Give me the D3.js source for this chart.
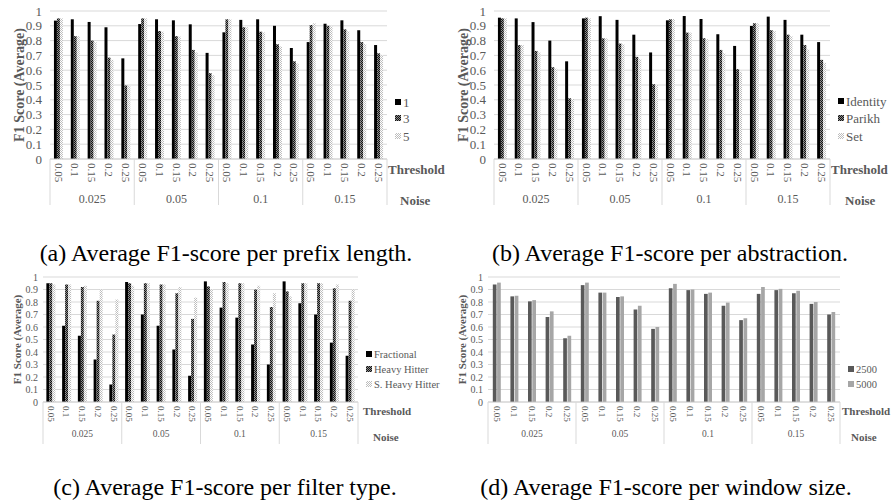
<!DOCTYPE html>
<html>
<head>
<meta charset="utf-8">
<script src="https://cdn.jsdelivr.net/npm/d3@7"></script>
<style>
  body { margin: 0; background: #fff; }
  svg { display: block; font-family: "Liberation Serif", "Times New Roman", serif; }
</style>
</head>
<body>
<div id="chart"></div>
<script>
// categories shared by all four panels
const noiseLevels = ["0.025", "0.05", "0.1", "0.15"];
const thresholds = ["0.05", "0.1", "0.15", "0.2", "0.25"];

// (a) prefix length
const prefixSeries = ["1", "3", "5"];
const prefix1 = [0.935, 0.944, 0.926, 0.89, 0.68, 0.912, 0.944, 0.937, 0.91, 0.717,
                 0.856, 0.94, 0.944, 0.90, 0.75, 0.79, 0.914, 0.937, 0.87, 0.77];
const prefix3 = [0.95, 0.83, 0.80, 0.685, 0.497, 0.95, 0.865, 0.83, 0.737, 0.58,
                 0.944, 0.89, 0.86, 0.775, 0.66, 0.905, 0.90, 0.876, 0.79, 0.714];
const prefix5 = [0.95, 0.83, 0.79, 0.67, 0.494, 0.95, 0.86, 0.827, 0.72, 0.566,
                 0.944, 0.89, 0.855, 0.76, 0.645, 0.917, 0.896, 0.863, 0.777, 0.70];

// (b) abstraction
const abstractionSeries = ["Identity", "Parikh", "Set"];
const identity = [0.955, 0.95, 0.925, 0.80, 0.66, 0.95, 0.965, 0.94, 0.84, 0.72,
                  0.937, 0.966, 0.946, 0.843, 0.764, 0.899, 0.962, 0.94, 0.84, 0.79];
const parikh = [0.95, 0.77, 0.73, 0.62, 0.41, 0.955, 0.815, 0.78, 0.69, 0.505,
                0.944, 0.854, 0.816, 0.737, 0.607, 0.917, 0.87, 0.84, 0.77, 0.67];
const setAbs = [0.95, 0.77, 0.72, 0.61, 0.405, 0.95, 0.815, 0.775, 0.675, 0.50,
                0.946, 0.854, 0.81, 0.715, 0.59, 0.917, 0.865, 0.83, 0.74, 0.65];

// (c) filter type
const filterSeries = ["Fractional", "Heavy Hitter", "S. Heavy Hitter"];
const fractional = [0.95, 0.61, 0.53, 0.34, 0.14, 0.96, 0.70, 0.61, 0.42, 0.21,
                    0.965, 0.755, 0.675, 0.46, 0.30, 0.965, 0.79, 0.70, 0.475, 0.37];
const heavyHitter = [0.95, 0.94, 0.92, 0.81, 0.54, 0.95, 0.95, 0.94, 0.87, 0.665,
                     0.925, 0.96, 0.95, 0.90, 0.76, 0.885, 0.95, 0.95, 0.91, 0.81];
const sHeavyHitter = [0.94, 0.94, 0.93, 0.90, 0.82, 0.93, 0.95, 0.94, 0.92, 0.835,
                      0.90, 0.95, 0.95, 0.93, 0.87, 0.845, 0.95, 0.95, 0.94, 0.90];

// (d) window size
const windowSeries = ["2500", "5000"];
const win2500 = [0.94, 0.845, 0.805, 0.68, 0.51, 0.935, 0.875, 0.84, 0.74, 0.585,
                 0.91, 0.895, 0.865, 0.77, 0.655, 0.865, 0.895, 0.87, 0.785, 0.70];
const win5000 = [0.955, 0.85, 0.815, 0.725, 0.53, 0.955, 0.875, 0.845, 0.77, 0.60,
                 0.945, 0.90, 0.875, 0.795, 0.67, 0.92, 0.905, 0.89, 0.80, 0.72];

const captions = [
  "(a) Average F1-score per prefix length.",
  "(b) Average F1-score per abstraction.",
  "(c) Average F1-score per filter type.",
  "(d) Average F1-score per window size."
];

const W = 891, H = 502;
const grey = "#595959";

const svg = d3.select("#chart").append("svg")
  .attr("width", W)
  .attr("height", H);

// checkered fills
const defs = svg.append("defs");
function checker(id, base, dot) {
  const p = defs.append("pattern")
    .attr("id", id)
    .attr("patternUnits", "userSpaceOnUse")
    .attr("width", 2).attr("height", 2);
  p.append("rect").attr("width", 2).attr("height", 2).attr("fill", base);
  p.append("rect").attr("width", 1).attr("height", 1).attr("fill", dot);
  p.append("rect").attr("x", 1).attr("y", 1).attr("width", 1).attr("height", 1).attr("fill", dot);
}
checker("darkCheck", "#8c8c8c", "#111");
checker("lightCheck", "#ffffff", "#bdbdbd");

const threeFills = ["#000", "url(#darkCheck)", "url(#lightCheck)"];

// layout of each panel
const panels = [
  {series: prefixSeries, values: [prefix1, prefix3, prefix5], fills: threeFills,
   left: 50, right: 387, top: 11, bottom: 159, po: 1.32, pi: 0,
   tickPad: 8, tickFont: 13, catFont: 11, groupFont: 12, labFont: 13, legFont: 13,
   titleX: 19, titleFont: 14, sepLen: 46, groupY: 203, catY: 163,
   thrX: 388, thrY: 174, noiseX: 400, noiseY: 205,
   legX: 395, legY: [102, 118, 136], capX: 226, capY: 261},
  {series: abstractionSeries, values: [identity, parikh, setAbs], fills: threeFills,
   left: 494, right: 830, top: 11, bottom: 159, po: 1.32, pi: 0,
   tickPad: 8, tickFont: 13, catFont: 11, groupFont: 12, labFont: 13, legFont: 13,
   titleX: 463, titleFont: 14, sepLen: 46, groupY: 203, catY: 163,
   thrX: 831, thrY: 174, noiseX: 845, noiseY: 205,
   legX: 838, legY: [101, 118, 136], capX: 670, capY: 261},
  {series: filterSeries, values: [fractional, heavyHitter, sHeavyHitter], fills: threeFills,
   left: 43, right: 358, top: 277, bottom: 402, po: 1.12, pi: 0,
   tickPad: 5, tickFont: 10, catFont: 9, groupFont: 9.5, labFont: 11, legFont: 10.5,
   titleX: 17, titleFont: 11, sepLen: 42, groupY: 437, catY: 406,
   thrX: 363, thrY: 415, noiseX: 373, noiseY: 441,
   legX: 366, legY: [354, 369, 384], capX: 225, capY: 495},
  {series: windowSeries, values: [win2500, win5000], fills: ["#595959", "#a6a6a6"],
   left: 488, right: 840, top: 277, bottom: 402, po: 1.12, pi: 0.14,
   tickPad: 5, tickFont: 10, catFont: 9, groupFont: 9.5, labFont: 11, legFont: 10.5,
   titleX: 462, titleFont: 11, sepLen: 42, groupY: 437, catY: 406,
   thrX: 842, thrY: 415, noiseX: 851, noiseY: 441,
   legX: 848, legY: [369, 384], capX: 666, capY: 495}
];

panels.forEach((p, i) => drawPanel(p, captions[i]));

function drawPanel(p, caption) {
  const g = svg.append("g");

  const y = d3.scaleLinear().domain([0, 1]).range([p.bottom, p.top]);
  const x0 = d3.scaleBand().domain(noiseLevels).range([p.left, p.right]);
  const x1 = d3.scaleBand().domain(thresholds).range([0, x0.bandwidth()]);
  const xs = d3.scaleBand().domain(p.series).range([0, x1.bandwidth()])
    .paddingInner(p.pi).paddingOuter(p.po);

  const yTicks = d3.range(11).map(i => i / 10);

  // horizontal gridlines
  g.append("g").selectAll("line")
    .data(yTicks.slice(1))
    .join("line")
    .attr("x1", p.left).attr("x2", p.right)
    .attr("y1", d => y(d)).attr("y2", d => y(d))
    .attr("stroke", "#d9d9d9")
    .attr("stroke-width", 1);

  // y axis labels
  const yAxis = g.append("g")
    .attr("transform", `translate(${p.left},0)`)
    .call(d3.axisLeft(y).tickValues(yTicks).tickSize(0).tickPadding(p.tickPad)
      .tickFormat(d => String(+d.toFixed(1))));
  yAxis.select(".domain").remove();
  yAxis.selectAll("text")
    .attr("fill", grey)
    .style("font-family", "Liberation Serif, serif")
    .style("font-size", p.tickFont + "px");

  // bars
  const rows = [];
  noiseLevels.forEach((n, i) => {
    thresholds.forEach((t, j) => {
      p.series.forEach((s, k) => {
        rows.push({noise: n, thr: t, k: k, s: s, v: p.values[k][i * thresholds.length + j]});
      });
    });
  });

  g.append("g").selectAll("rect")
    .data(rows)
    .join("rect")
    .attr("x", d => x0(d.noise) + x1(d.thr) + xs(d.s))
    .attr("y", d => y(d.v))
    .attr("width", xs.bandwidth())
    .attr("height", d => y(0) - y(d.v))
    .attr("fill", d => p.fills[d.k]);

  // category axis line
  g.append("line")
    .attr("x1", p.left).attr("x2", p.right)
    .attr("y1", y(0)).attr("y2", y(0))
    .attr("stroke", "#bfbfbf");

  // group separators
  const seps = noiseLevels.map(n => x0(n)).concat([p.right]);
  g.append("g").selectAll("line")
    .data(seps)
    .join("line")
    .attr("x1", d => d).attr("x2", d => d)
    .attr("y1", y(0)).attr("y2", y(0) + p.sepLen)
    .attr("stroke", "#d9d9d9");

  // threshold labels, rotated
  const cats = [];
  noiseLevels.forEach(n => thresholds.forEach(t => cats.push({noise: n, thr: t})));
  g.append("g").selectAll("text")
    .data(cats)
    .join("text")
    .attr("transform", d => `translate(${x0(d.noise) + x1(d.thr) + x1.bandwidth() / 2},${p.catY}) rotate(90)`)
    .attr("dy", "0.35em")
    .attr("fill", grey)
    .style("font-size", p.catFont + "px")
    .text(d => d.thr);

  // noise labels
  g.append("g").selectAll("text")
    .data(noiseLevels)
    .join("text")
    .attr("x", d => x0(d) + x0.bandwidth() / 2)
    .attr("y", p.groupY)
    .attr("text-anchor", "middle")
    .attr("fill", grey)
    .style("font-size", p.groupFont + "px")
    .text(d => d);

  g.append("text")
    .attr("x", p.thrX).attr("y", p.thrY)
    .attr("fill", grey)
    .style("font-weight", "bold")
    .style("font-size", p.labFont + "px")
    .text("Threshold");

  g.append("text")
    .attr("x", p.noiseX).attr("y", p.noiseY)
    .attr("fill", grey)
    .style("font-weight", "bold")
    .style("font-size", p.labFont + "px")
    .text("Noise");

  // y title
  g.append("text")
    .attr("transform", `translate(${p.titleX},${(p.top + p.bottom) / 2}) rotate(-90)`)
    .attr("text-anchor", "middle")
    .attr("dy", "0.35em")
    .attr("fill", grey)
    .style("font-weight", "bold")
    .style("font-size", p.titleFont + "px")
    .text("F1 Score (Average)");

  // legend
  const leg = g.append("g").selectAll("g")
    .data(p.series)
    .join("g")
    .attr("transform", (d, k) => `translate(${p.legX},${p.legY[k]})`);
  leg.append("rect")
    .attr("x", 0).attr("y", -3)
    .attr("width", 6).attr("height", 6)
    .attr("fill", (d, k) => p.fills[k]);
  leg.append("text")
    .attr("x", 8)
    .attr("dy", "0.35em")
    .attr("fill", grey)
    .style("font-size", p.legFont + "px")
    .text(d => d);

  // caption
  g.append("text")
    .attr("x", p.capX).attr("y", p.capY)
    .attr("text-anchor", "middle")
    .attr("fill", "#000")
    .style("font-size", "24px")
    .text(caption);
}
</script>
</body>
</html>
